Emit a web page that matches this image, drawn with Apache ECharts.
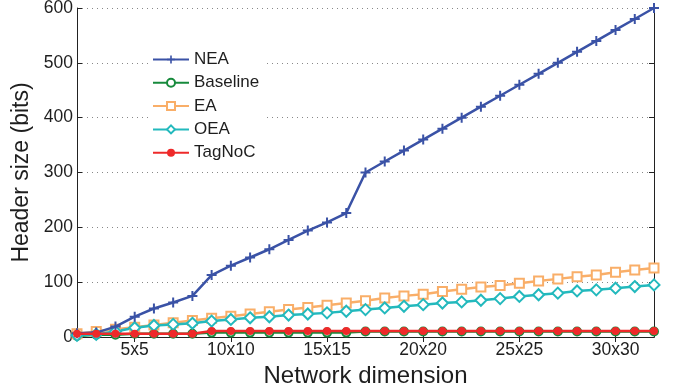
<!DOCTYPE html>
<html><head><meta charset="utf-8">
<script src="https://cdn.jsdelivr.net/npm/echarts@6/dist/echarts.min.js"></script>
<style>html,body{margin:0;padding:0;background:#fff}#c{width:673px;height:388px}</style>
</head><body><div id="c"></div>
<script>
const categories = ["2x2","3x3","4x4","5x5","6x6","7x7","8x8","9x9","10x10","11x11","12x12","13x13","14x14","15x15","16x16","17x17","18x18","19x19","20x20","21x21","22x22","23x23","24x24","25x25","26x26","27x27","28x28","29x29","30x30","31x31","32x32"];
const NEA = [7,8,19,37,52,63,75,113,130,145,160,177,194,209,226,300,320,340,360,380,400,420,440,460,480,500,520,540,560,580,600];
const Baseline = [2,4,4,6,6,6,6,8,8,8,8,8,8,8,8,10,10,10,10,10,10,10,10,10,10,10,10,10,10,10,10];
const EA = [6,10,14,18,22,26,30,34,38,42,46,50,54,58,62,66,71,75,78,83,87,91,94,98,102,106,110,113,118,122,126];
const OEA = [3,5,10,17,21,23,25,29,32,35,37,40,42,44,47,50,53,56,59,62,64,67,70,74,77,80,84,86,89,92,95];
const TagNoC = [6,6,6,6,6,6,6,11,11,11,11,11,11,11,11,11,11,11,11,11,11,11,11,11,11,11,11,11,11,11,11];
const yTicks = [0,100,200,300,400,500,600];

const FONT = "'Liberation Sans', Arial, sans-serif";
const TXT = '#1e1e1e';
const plus = 'path://M4,0H6V4H10V6H6V10H4V6H0V4H4Z';
const tickSel = (i) => (i + 2) % 5 === 0;

function mk(name, data, color, symbol, size, z) {
  return {
    name, type: 'line', data, symbol, symbolSize: size, z,
    showAllSymbol: true,
    lineStyle: { color, width: 2.5 },
    itemStyle: { color, borderColor: color, borderWidth: symbol.startsWith('empty') ? 1.8 : 0 },
    emphasis: { disabled: true }
  };
}

const chart = echarts.init(document.getElementById('c'));
chart.setOption({
  animation: false,
  backgroundColor: '#fff',
  grid: { left: 77, right: 19, top: 8, bottom: 51, containLabel: false, outerBoundsMode: 'none' },
  legend: {
    orient: 'vertical', left: 150, top: 49,
    itemWidth: 36, itemHeight: 10, itemGap: 6.3,
    backgroundColor: '#fff', padding: [2, 4, 2, 2],
    textStyle: { fontFamily: FONT, fontSize: 17, color: TXT },
    data: ['NEA', 'Baseline', 'EA', 'OEA', 'TagNoC']
  },
  xAxis: [{
    type: 'category', data: categories, boundaryGap: false,
    name: 'Network dimension', nameLocation: 'middle', nameGap: 25,
    nameTextStyle: { fontFamily: FONT, fontSize: 24, color: TXT },
    axisLine: { lineStyle: { color: '#222', width: 1 } },
    axisTick: { inside: true, length: 5, interval: tickSel, lineStyle: { color: '#222' } },
    axisLabel: { interval: tickSel, fontFamily: FONT, fontSize: 17.5, color: TXT, margin: 4 },
    splitLine: { show: false }
  }, {
    type: 'category', data: categories, boundaryGap: false, position: 'top',
    axisLine: { lineStyle: { color: '#222', width: 1 } },
    axisTick: { inside: true, length: 5, interval: tickSel, lineStyle: { color: '#222' } },
    axisLabel: { show: false }, splitLine: { show: false }
  }],
  yAxis: [{
    type: 'value', min: 0, max: 600, interval: 100,
    name: 'Header size (bits)', nameLocation: 'middle', nameGap: 42,
    nameTextStyle: { fontFamily: FONT, fontSize: 23, color: TXT },
    axisLine: { show: true, lineStyle: { color: '#222', width: 1 } },
    axisTick: { show: true, inside: true, length: 5, lineStyle: { color: '#222' } },
    axisLabel: { fontFamily: FONT, fontSize: 17.5, color: TXT, margin: 4,
      formatter: (v) => yTicks.includes(v) ? String(v) : '' },
    splitLine: { show: true, lineStyle: { color: '#888', type: [1, 4], width: 1 } }
  }, {
    type: 'value', min: 0, max: 600, interval: 100, position: 'right',
    axisLine: { show: true, lineStyle: { color: '#222', width: 1 } },
    axisTick: { show: true, inside: true, length: 5, lineStyle: { color: '#222' } },
    axisLabel: { show: false }, splitLine: { show: false }
  }],
  series: [
    mk('NEA', NEA, '#3a52a6', plus, 10, 5),
    mk('Baseline', Baseline, '#178a3c', 'emptyCircle', 8, 3),
    mk('EA', EA, '#f9ae68', 'emptyRect', 9, 4),
    mk('OEA', OEA, '#23b9bd', 'emptyDiamond', 11, 4),
    mk('TagNoC', TagNoC, '#ee2a2a', 'circle', 8, 6)
  ]
});
</script></body></html>
